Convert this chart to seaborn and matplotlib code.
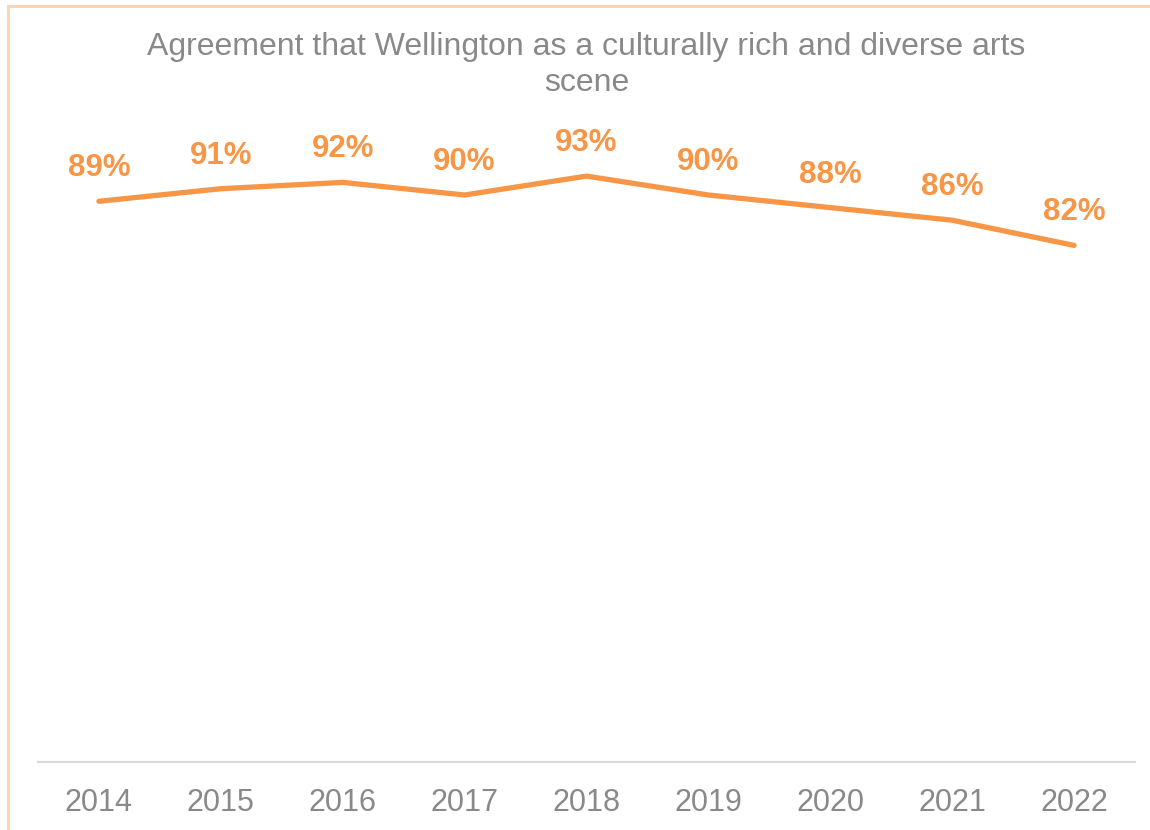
import matplotlib
matplotlib.use("Agg")
import matplotlib.pyplot as plt
from matplotlib.patches import Rectangle
import seaborn as sns
import pandas as pd

years = ["2014", "2015", "2016", "2017", "2018", "2019", "2020", "2021", "2022"]
agreement = [89, 91, 92, 90, 93, 90, 88, 86, 82]
title = "Agreement that Wellington as a culturally rich and diverse arts\nscene"

sns.set_theme(style="white")
plt.rcParams["font.family"] = ["Liberation Sans", "DejaVu Sans"]

ORANGE = "#F79646"
GREY = "#898989"

df = pd.DataFrame({"year": years, "pct": agreement})

fig = plt.figure(figsize=(11.5, 8.3), dpi=100)
ax = fig.add_axes([38 / 1150, 1 - 762 / 830, 1097 / 1150, 630 / 830])

sns.lineplot(data=df, x="year", y="pct", ax=ax, color=ORANGE,
             linewidth=3.8, solid_capstyle="round", solid_joinstyle="round")

ax.set_xlim(-0.5, len(years) - 0.5)
ax.set_ylim(0, 100)

for i, v in enumerate(agreement):
    ax.annotate(f"{v}%", (i, v), xytext=(0, 13), textcoords="offset points",
                ha="center", va="bottom", fontsize=22.5, fontweight="bold",
                color=ORANGE)

ax.set_xlabel("")
ax.set_ylabel("")
ax.set_yticks([])
ax.tick_params(axis="x", length=0, pad=19, labelsize=22, labelcolor=GREY)
for side in ("top", "right", "left"):
    ax.spines[side].set_visible(False)
ax.spines["bottom"].set_color("#D9D9D9")
ax.spines["bottom"].set_linewidth(1.5)
ax.patch.set_alpha(0)

fig.text(586.5 / 1150, 1 - 32 / 830, title, ha="center", va="top",
         fontsize=23, color=GREY, linespacing=1.27)

# light orange frame around the chart area
fig.patches.append(Rectangle((8 / 1150, -0.05), 1.1, 1 - 6 / 830 + 0.05,
                             transform=fig.transFigure, fill=False,
                             edgecolor="#FCD5B4", linewidth=2.2))

fig.savefig("out.png", dpi=100)
